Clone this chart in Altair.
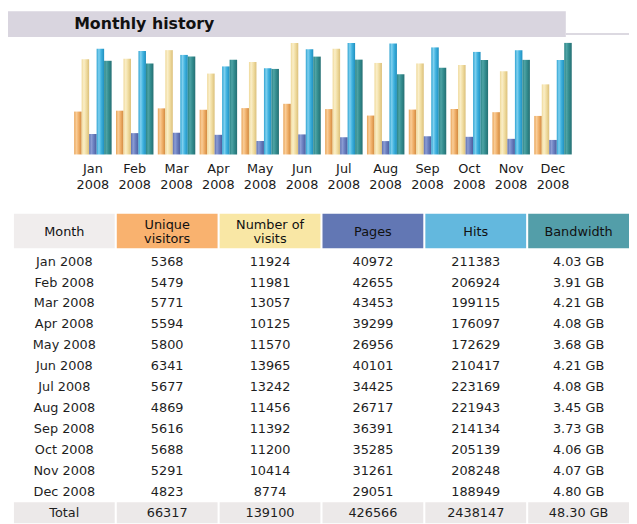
import altair as alt
import pandas as pd

# ---------------- data ----------------
months = ["Jan", "Feb", "Mar", "Apr", "May", "Jun", "Jul", "Aug", "Sep", "Oct", "Nov", "Dec"]
year = "2008"
unique_visitors = [5368, 5479, 5771, 5594, 5800, 6341, 5677, 4869, 5616, 5688, 5291, 4823]
visits = [11924, 11981, 13057, 10125, 11570, 13965, 13242, 11456, 11392, 11200, 10414, 8774]
pages = [40972, 42655, 43453, 39299, 26956, 40101, 34425, 26717, 36391, 35285, 31261, 29051]
hits = [211383, 206924, 199115, 176097, 172629, 210417, 223169, 221943, 214134, 205139, 208248, 188949]
bandwidth_gb = [4.03, 3.91, 4.21, 4.08, 3.68, 4.21, 4.08, 3.45, 3.73, 4.06, 4.07, 4.80]
totals = ["66317", "139100", "426566", "2438147", "48.30 GB"]

metric_keys = ["uv", "visits", "pages", "hits", "bw"]
col_keys = ["month", "uv", "visits", "pages", "hits", "bw"]
col_labels = ["Month", "Unique\nvisitors", "Number of\nvisits", "Pages", "Hits", "Bandwidth"]
header_colors = ["#f0eded", "#f9b26f", "#f9e7a5", "#6277b4", "#63b8de", "#539ea9"]

gradients = {
    "uv": ["#e9a458", "#f9cd98", "#f0b06a", "#d2893f"],
    "visits": ["#efd99a", "#faeec8", "#f1dea3", "#dcc07a"],
    "pages": ["#5e70b0", "#8c9dd4", "#6b7fbf", "#4d5e9e"],
    "hits": ["#2ea3d2", "#7fd0ef", "#3fb2df", "#1f8fbf"],
    "bw": ["#2a8486", "#4fa3a5", "#338d8f", "#256f73"],
}

FONT = "DejaVu Sans"
W = 629

# ---------------- title band ----------------
title_df = pd.DataFrame({"t": ["Monthly history"]})
tb = alt.Chart(title_df)
title_panel = alt.layer(
    tb.mark_rect(color="#d9d5df").encode(
        x=alt.value(0), x2=alt.value(565), y=alt.value(0), y2=alt.value(26)),
    tb.mark_rect(color="#dcd9e1").encode(
        x=alt.value(565), x2=alt.value(W), y=alt.value(22), y2=alt.value(24)),
    tb.mark_text(align="left", baseline="alphabetic", font=FONT, fontSize=16,
                 fontWeight="bold", color="#111111").encode(
        x=alt.value(67), y=alt.value(18), text="t:N"),
).properties(width=W, height=26)

# ---------------- bar chart ----------------
wide = pd.DataFrame({
    "month": months,
    "uv": unique_visitors,
    "visits": visits,
    "pages": pages,
    "hits": hits,
    "bw": bandwidth_gb,
})
wide["label"] = [m + "\n" + year for m in months]

group_expr = ("datum.metric == 'uv' || datum.metric == 'visits' ? 'v' : "
              "(datum.metric == 'pages' || datum.metric == 'hits' ? 'h' : 'b')")

base = (alt.Chart(wide)
        .transform_fold(metric_keys, as_=["metric", "value"])
        .transform_calculate(grp=group_expr)
        .transform_joinaggregate(gmax="max(value)", groupby=["grp"])
        .transform_calculate(frac="datum.value / datum.gmax"))

x_month = alt.X("month:N", sort=months, axis=None,
                scale=alt.Scale(range=[67, 571], paddingInner=0.104, paddingOuter=0))
x_off = alt.XOffset("metric:N", sort=metric_keys,
                    scale=alt.Scale(domain=metric_keys, paddingInner=0, paddingOuter=0))
y_frac = alt.Y("frac:Q", axis=None, scale=alt.Scale(domain=[0, 1], range=[113, 0]))

bar_layers = []
for m in metric_keys:
    c = gradients[m]
    grad = alt.LinearGradient(
        gradient="linear", x1=0, x2=1, y1=0, y2=0,
        stops=[alt.GradientStop(color=c[0], offset=0),
               alt.GradientStop(color=c[1], offset=0.3),
               alt.GradientStop(color=c[2], offset=0.6),
               alt.GradientStop(color=c[3], offset=1)])
    bar_layers.append(
        base.transform_filter(alt.datum.metric == m)
        .mark_bar(fill=grad, strokeWidth=0)
        .encode(x=x_month, xOffset=x_off, y=y_frac)
    )

labels = alt.Chart(wide).mark_text(
    lineBreak="\n", lineHeight=16, baseline="alphabetic", align="center",
    font=FONT, fontSize=13, color="#1a1a1a").encode(
    x=alt.X("month:N", sort=months), y=alt.value(132), text="label:N")

bar_panel = alt.layer(*bar_layers, labels).properties(width=W, height=167)

# ---------------- table ----------------
x_col = alt.X("col:N", sort=col_keys, axis=None,
              scale=alt.Scale(domain=col_keys, range=[6, W], paddingInner=0.02, paddingOuter=0))

header_df = pd.DataFrame({"col": col_keys, "label": col_labels})
hb = alt.Chart(header_df)
multi_line = alt.expr.indexof(alt.datum.label, "\n") >= 0
header_panel = alt.layer(
    hb.mark_rect().encode(
        x=x_col, y=alt.value(0), y2=alt.value(35),
        color=alt.Color("col:N", scale=alt.Scale(domain=col_keys, range=header_colors), legend=None)),
    hb.transform_filter(~multi_line).mark_text(
        baseline="middle", align="center", font=FONT, fontSize=13, color="#111111").encode(
        x=x_col, y=alt.value(18.5), text="label:N"),
    hb.transform_filter(multi_line).mark_text(
        lineBreak="\n", lineHeight=15, baseline="middle", align="center",
        font=FONT, fontSize=13, color="#111111").encode(
        x=x_col, y=alt.value(11), text="label:N"),
).properties(width=W, height=35)

row_names = [m + " " + year for m in months] + ["Total"]
records = []
for i, m in enumerate(months):
    rn = row_names[i]
    vals = [rn, str(unique_visitors[i]), str(visits[i]), str(pages[i]), str(hits[i]),
            f"{bandwidth_gb[i]:.2f} GB"]
    for ck, v in zip(col_keys, vals):
        records.append({"row": rn, "col": ck, "text": v})
for ck, v in zip(col_keys, ["Total"] + totals):
    records.append({"row": "Total", "col": ck, "text": v})
table_df = pd.DataFrame(records)

y_row = alt.Y("row:N", sort=row_names, axis=None,
              scale=alt.Scale(domain=row_names, paddingInner=0, paddingOuter=0))
tbase = alt.Chart(table_df)
rows_panel = alt.layer(
    tbase.transform_filter(alt.datum.row == "Total").mark_rect(color="#ece9e9").encode(
        x=x_col, y=y_row),
    tbase.mark_text(baseline="middle", align="center", font=FONT, fontSize=13,
                    color="#1e1e1e").encode(x=x_col, y=y_row, text="text:N"),
).properties(width=W, height=275.6)

table = alt.vconcat(header_panel, rows_panel, spacing=3)

chart = alt.vconcat(title_panel, bar_panel, table, spacing=6).properties(
    padding=0, background="white"
).configure_view(stroke=None)

chart.save("out.html", embed_options={"renderer": "svg", "actions": False})
